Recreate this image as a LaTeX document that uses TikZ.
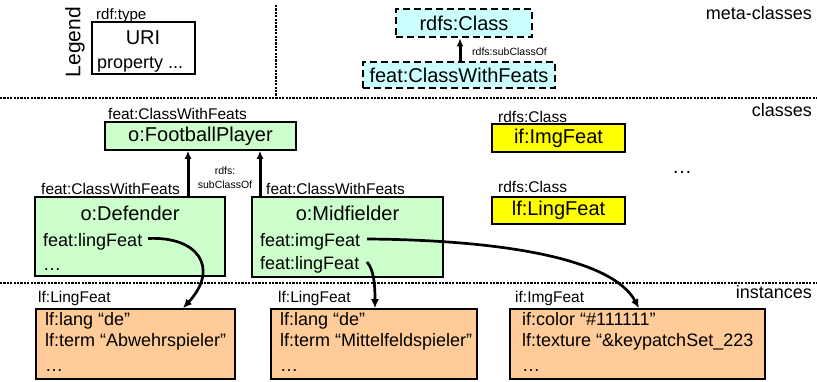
\documentclass[tikz,border=0pt]{standalone}
\usepackage{fontspec}
\setmainfont{Liberation Sans}
\usetikzlibrary{arrows.meta}

\definecolor{metacyan}{HTML}{CCFFFF}
\definecolor{clsgreen}{HTML}{CCFFCC}
\definecolor{featyellow}{HTML}{FFFF00}
\definecolor{instorange}{HTML}{FFCC99}

\tikzset{
  big/.style={font=\fontsize{20}{24}\selectfont},
  med/.style={font=\fontsize{18}{21}\selectfont},
  lbl/.style={font=\fontsize{15.5}{18}\selectfont, inner sep=0, anchor=base west},
  txt/.style={med, inner sep=0, anchor=base west},
  small/.style={font=\fontsize{10.5}{12}\selectfont, inner sep=0},
  boxbase/.style={draw, line width=1.6pt, inner sep=0},
  metabox/.style={draw, line width=2.8pt, dash pattern=on 7pt off 4pt, fill=metacyan, inner sep=0, big},
  clsbox/.style={boxbase, fill=clsgreen},
  featbox/.style={boxbase, fill=featyellow, big},
  instbox/.style={boxbase, fill=instorange},
  sep/.style={line width=1.1pt, dash pattern=on 2.2pt off 1.2pt},
  sub/.style={line width=3pt, -{Latex[length=8pt,width=7pt]}},
  link/.style={line width=2.7pt, -{Latex[length=9pt,width=8pt]}},
  region/.style={med, inner sep=0, anchor=east}
}

\begin{document}
\begin{tikzpicture}[x=1pt,y=-1pt]
\useasboundingbox (0,0) rectangle (817,381);

% separators between the three layers
\coordinate (sepL1) at (0,98);   \coordinate (sepR1) at (817,98);
\coordinate (sepL2) at (0,283);  \coordinate (sepR2) at (817,283);
\coordinate (vsepT) at (276,5);  \coordinate (vsepB) at (276,98);
\draw[sep] (sepL1) -- (sepR1);
\draw[sep] (sepL2) -- (sepR2);
\draw[sep] (vsepT) -- (vsepB);

% region titles
\node[region] (tmeta) at (812,13) {meta-classes};
\node[region] (tcls)  at (812,110) {classes};
\node[region] (tinst) at (812,292) {instances};

% legend
\node[rotate=90, font=\fontsize{21}{24}\selectfont, inner sep=0] (legend) at (75,42) {Legend};
\node[boxbase, minimum width=103pt, minimum height=52pt] (legbox) at (143.5,48) {};
\node[lbl, font=\fontsize{15}{18}\selectfont] (legtype) at (96,19) {rdf:type};
\node[big, inner sep=0] (leguri) at (143,38) {URI};
\node[txt] (legprop) at (97,68) {property ...};

% meta-classes
\node[metabox, minimum width=136pt, minimum height=28pt] (rdfsclass) at (464,23) {rdfs:Class};
\node[metabox, minimum width=192pt, minimum height=26pt] (cwf) at (459,75) {feat:ClassWithFeats};
\draw[sub] (cwf.north -| 460,0) -- (rdfsclass.south -| 460,0);
\node[small, anchor=west] (metasub) at (472,52) {rdfs:subClassOf};

% classes
\node[clsbox, big, minimum width=191pt, minimum height=28pt] (fp) at (200.5,136) {o:FootballPlayer};
\node[lbl] (fplbl) at (108,119.5) {feat:ClassWithFeats};

\node[clsbox, minimum width=190pt, minimum height=79pt] (def) at (130,236.5) {};
\node[lbl] (deflbl) at (41,194) {feat:ClassWithFeats};
\node[big, inner sep=0, anchor=base] (deftitle) at (130,220) {o:Defender};
\node[txt] (defling) at (43,246) {feat:lingFeat};
\node[txt] (defdots) at (43,270) {…};

\node[clsbox, minimum width=191pt, minimum height=80pt] (mid) at (347.5,237) {};
\node[lbl] (midlbl) at (266,194) {feat:ClassWithFeats};
\node[big, inner sep=0, anchor=base] (midtitle) at (347.5,220) {o:Midfielder};
\node[txt] (midimg) at (260,246) {feat:imgFeat};
\node[txt] (midling) at (260,269) {feat:lingFeat};

\draw[sub] (def.north -| 188,0) -- (fp.south -| 188,0);
\draw[sub] (mid.north -| 260,0) -- (fp.south -| 260,0);
\node[small] (sub1) at (225,171) {rdfs:};
\node[small] (sub2) at (225,185) {subClassOf};

\node[featbox, minimum width=133pt, minimum height=28pt] (imgf) at (558.5,138) {if:ImgFeat};
\node[lbl] (imgflbl) at (498,122) {rdfs:Class};
\node[featbox, minimum width=133pt, minimum height=27pt] (lingf) at (558.5,210.5) {lf:LingFeat};
\node[lbl] (lingflbl) at (498,192) {rdfs:Class};
\node[big, inner sep=0] (clsdots) at (682,172) {…};

% instances
\node[instbox, minimum width=199pt, minimum height=70pt] (inst1) at (135.5,344) {};
\node[lbl] (inst1lbl) at (38,302) {lf:LingFeat};
\node[txt] (i1a) at (45,325) {lf:lang “de”};
\node[txt] (i1b) at (45,346) {lf:term “Abwehrspieler”};
\node[txt] (i1c) at (45,371) {…};

\node[instbox, minimum width=206pt, minimum height=70pt] (inst2) at (374,344) {};
\node[lbl] (inst2lbl) at (278,302) {lf:LingFeat};
\node[txt] (i2a) at (280,325) {lf:lang “de”};
\node[txt] (i2b) at (280,346) {lf:term “Mittelfeldspieler”};
\node[txt] (i2c) at (280,371) {…};

\node[instbox, minimum width=255pt, minimum height=70pt] (inst3) at (637.5,344) {};
\node[lbl] (inst3lbl) at (515,302) {if:ImgFeat};
\node[txt] (i3a) at (522,325) {if:color “\#111111”};
\node[txt] (i3b) at (522,346) {lf:texture “\&keypatchSet\_223};
\node[txt] (i3c) at (522,371) {…};

% feature links from class properties to their instances
\coordinate (defout) at (148,238.5);
\coordinate (midimgout) at (367,239);
\coordinate (midlingout) at (367,262);
\draw[link] (defout) .. controls (198,236) and (220,268) .. (inst1.north -| 183,0);
\draw[link] (midlingout) .. controls (374,270) and (375,285) .. (inst2.north -| 375,0);
\draw[link] (midimgout) .. controls (500,240) and (612,258) .. (inst3.north -| 639,0);
\end{tikzpicture}
\end{document}
